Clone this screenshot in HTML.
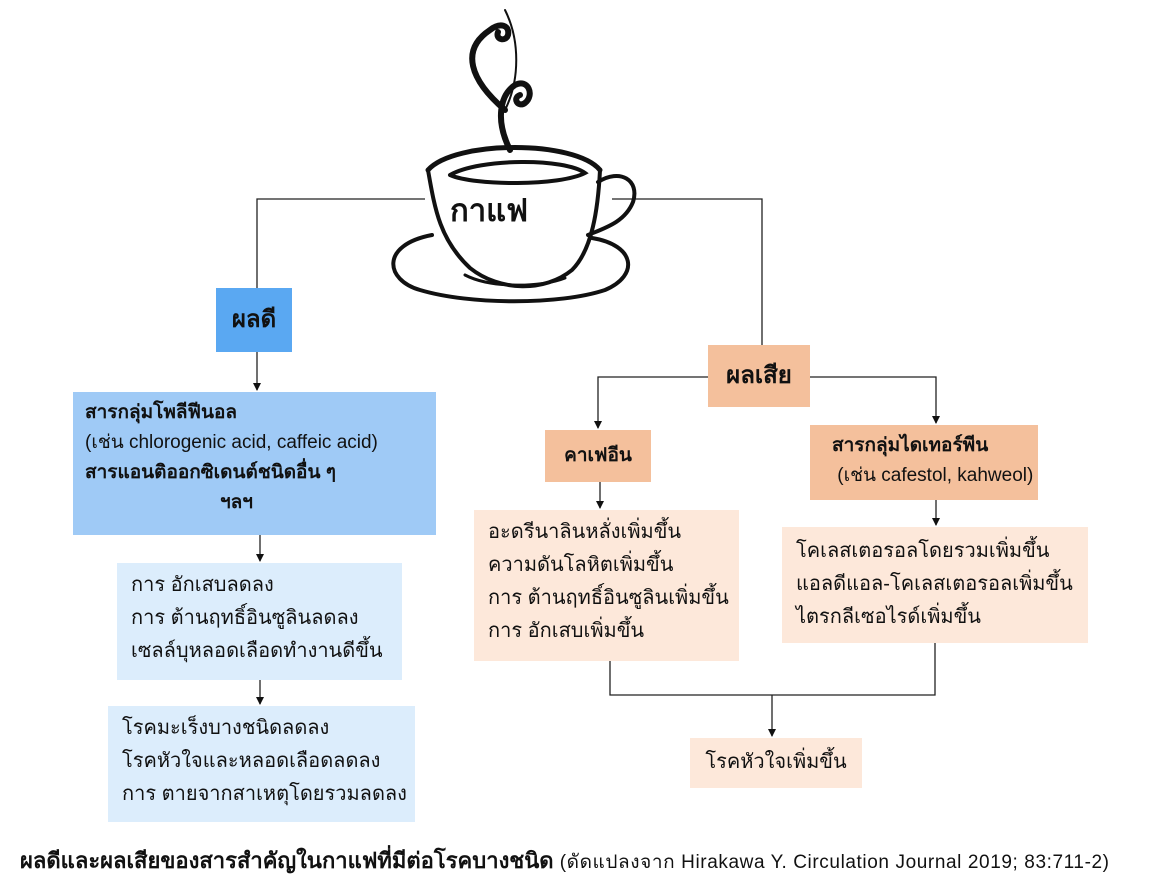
<!DOCTYPE html>
<html><head><meta charset="utf-8"><style>
body{margin:0;width:1167px;height:879px;background:#fff;position:relative;overflow:hidden;font-family:"Liberation Sans","DejaVu Sans",sans-serif;color:#111}
.b{position:absolute;box-sizing:border-box;font-size:19px;line-height:29px}
.c{text-align:center}
svg{position:absolute;left:0;top:0}
</style></head><body>
<svg width="1167" height="879">
<defs><marker id="a" markerWidth="8" markerHeight="8" refX="7" refY="4" orient="auto" markerUnits="userSpaceOnUse"><path d="M0,0 L8,4 L0,8 z" fill="#111"/></marker></defs>
<g stroke="#222" stroke-width="1.3" fill="none">
<path d="M425,199 H257 V288"/>
<path d="M612,199 H762 V345"/>
<path d="M257,352 V390" marker-end="url(#a)"/>
<path d="M260,535 V561" marker-end="url(#a)"/>
<path d="M260,680 V704" marker-end="url(#a)"/>
<path d="M708,377 H598 V428" marker-end="url(#a)"/>
<path d="M810,377 H936 V423" marker-end="url(#a)"/>
<path d="M600,482 V508" marker-end="url(#a)"/>
<path d="M936,500 V525" marker-end="url(#a)"/>
<path d="M610,661 V695 H935 V643"/>
<path d="M772,695 V736" marker-end="url(#a)"/>
</g>
<g stroke="#111" fill="none" stroke-linecap="round">
<path d="M505,110 C470,80 460,50 490,30 C500,22 510,25 508,35 C506,42 495,40 498,32" stroke-width="6"/>
<path d="M505,110 C520,80 520,40 505,10" stroke-width="2"/>
<path d="M510,150 C495,120 500,95 515,85 C528,78 535,95 525,103 C518,108 512,98 520,95" stroke-width="6"/>
<path d="M428,170 C435,210 440,240 470,268 C500,292 545,292 572,270 C592,250 598,210 600,170" stroke-width="4"/>
<path d="M428,170 C455,140 575,140 600,170" stroke-width="5"/>
<path d="M450,175 C480,158 565,158 585,173 C560,186 475,186 450,175" stroke-width="4"/>
<path d="M598,182 C620,168 640,180 633,202 C625,222 605,228 588,235" stroke-width="4"/>
<path d="M432,235 C380,245 385,280 420,290 C470,305 560,305 605,290 C640,275 635,245 592,238" stroke-width="4"/>
<path d="M465,275 C490,288 540,288 565,278" stroke-width="3"/>
</g>
</svg>
<div class="b" style="left:450px;top:196px;font-size:31px;font-weight:bold;color:#111">กาแฟ</div>
<div class="b c" style="left:216px;top:288px;width:76px;height:64px;background:#5aa8f2;font-size:24px;line-height:64px;font-weight:bold">ผลดี</div>
<div class="b" style="left:73px;top:392px;width:363px;height:143px;background:#9fcaf6;padding:6px 0 0 12px;line-height:30px">
<b>สารกลุ่มโพลีฟีนอล</b><br>(เช่น chlorogenic acid, caffeic acid)<br><b>สารแอนติออกซิเดนต์ชนิดอื่น ๆ</b><br><span style="padding-left:135px"><b>ฯลฯ</b></span></div>
<div class="b" style="left:117px;top:563px;width:285px;height:117px;background:#dcedfc;padding:6px 0 0 14px;line-height:33px;font-size:20px">การ อักเสบลดลง<br>การ ต้านฤทธิ์อินซูลินลดลง<br>เซลล์บุหลอดเลือดทำงานดีขึ้น</div>
<div class="b" style="left:108px;top:706px;width:307px;height:116px;background:#dcedfc;padding:6px 0 0 14px;line-height:33px;font-size:20px">โรคมะเร็งบางชนิดลดลง<br>โรคหัวใจและหลอดเลือดลดลง<br>การ ตายจากสาเหตุโดยรวมลดลง</div>
<div class="b c" style="left:708px;top:345px;width:102px;height:62px;background:#f4c09c;font-size:24px;line-height:62px;font-weight:bold">ผลเสีย</div>
<div class="b c" style="left:545px;top:430px;width:106px;height:52px;background:#f4c09c;line-height:52px;font-weight:bold">คาเฟอีน</div>
<div class="b" style="left:810px;top:425px;width:228px;height:75px;background:#f4c09c;padding:6px 0 0 22px;line-height:30px"><b>สารกลุ่มไดเทอร์พีน</b><br>&nbsp;(เช่น cafestol, kahweol)</div>
<div class="b" style="left:474px;top:510px;width:265px;height:151px;background:#fde8da;padding:6px 0 0 14px;line-height:33px;font-size:20px">อะดรีนาลินหลั่งเพิ่มขึ้น<br>ความดันโลหิตเพิ่มขึ้น<br>การ ต้านฤทธิ์อินซูลินเพิ่มขึ้น<br>การ อักเสบเพิ่มขึ้น</div>
<div class="b" style="left:782px;top:527px;width:306px;height:116px;background:#fde8da;padding:8px 0 0 14px;line-height:33px;font-size:20px">โคเลสเตอรอลโดยรวมเพิ่มขึ้น<br>แอลดีแอล-โคเลสเตอรอลเพิ่มขึ้น<br>ไตรกลีเซอไรด์เพิ่มขึ้น</div>
<div class="b c" style="left:690px;top:738px;width:172px;height:50px;background:#fde8da;line-height:48px;font-size:20px">โรคหัวใจเพิ่มขึ้น</div>
<div class="b" style="left:20px;top:846px;width:1140px;font-size:22px;line-height:30px;white-space:nowrap"><b>ผลดีและผลเสียของสารสำคัญในกาแฟที่มีต่อโรคบางชนิด</b> <span style="font-size:19px;letter-spacing:0.6px">(ดัดแปลงจาก Hirakawa Y. Circulation Journal 2019; 83:711-2)</span></div>
</body></html>
